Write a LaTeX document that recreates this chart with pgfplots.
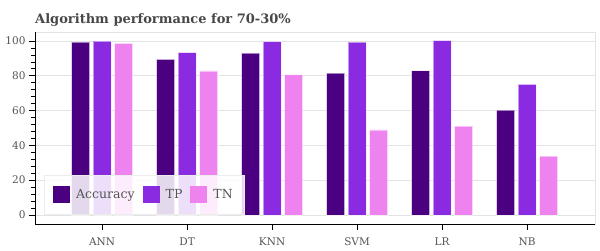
\documentclass[border=0pt]{standalone}
\usepackage{fontspec}
\setmainfont{DejaVu Serif}
\usepackage{pgfplots}
\pgfplotsset{compat=1.18}
\definecolor{cacc}{HTML}{4B0082}
\definecolor{ctp}{HTML}{8A2BE2}
\definecolor{ctn}{HTML}{EE82EE}
\definecolor{txt}{HTML}{555555}
\begin{document}
\begin{tikzpicture}[x=1pt,y=1pt]
\path[use as bounding box] (0,0) rectangle (600,250);
\node[anchor=west, font=\fontsize{13}{15}\selectfont\bfseries, text=black!72, inner sep=0pt] at (35,230) {Algorithm performance for 70-30\%};
\begin{axis}[
  at={(35pt,26pt)}, anchor=south west,
  scale only axis, width=560pt, height=192pt,
  ybar=0pt, bar width=0.212,
  xmin=-0.79, xmax=5.8, ymin=-5.2, ymax=105.2,
  xtick={0,...,5}, xticklabels={ANN,DT,KNN,SVM,LR,NB},
  ytick={0,20,...,100}, minor y tick num=4,
  ymajorgrids, major grid style={gray!22, line width=0.8pt},
  axis line style={gray!22, line width=0.8pt},
  xtick pos=bottom, ytick pos=left,
  tick align=outside, major tick length=6pt, minor tick length=4pt,
  tick style={black, line width=0.8pt},
  /pgf/number format/assume math mode=true,
  tick label style={font=\fontsize{10.5}{12}\selectfont, text=txt},
  xticklabel style={yshift=-4pt},
  legend columns=3,
  legend style={at={(rel axis cs:0.016,0.052)}, anchor=south west,
    fill=white, fill opacity=0.85, text opacity=1, draw=gray!15,
    inner xsep=9pt, inner ysep=11pt,
    font=\fontsize{12.5}{14}\selectfont, text=txt,
    /tikz/every odd column/.append style={column sep=4pt},
    /tikz/every even column/.append style={column sep=6pt}},
  legend image code/.code={\fill[#1, draw=none, fill opacity=1] (0pt,-8.5pt) rectangle (17pt,8.5pt);},
  every axis plot/.append style={draw=white, draw opacity=0.5, line width=0.8pt},
]
\addplot[fill=cacc, bar shift=-0.253] coordinates {(0,99.4) (1,89.5) (2,93.1) (3,81.6) (4,82.9) (5,60.3)};
\addplot[fill=ctp, bar shift=0] coordinates {(0,100.0) (1,93.3) (2,99.6) (3,99.4) (4,100.2) (5,75.1)};
\addplot[fill=ctn, bar shift=0.253] coordinates {(0,98.7) (1,82.8) (2,80.6) (3,48.9) (4,51.1) (5,33.9)};
\legend{Accuracy,TP,TN}
\draw[black, line width=0.8pt] (rel axis cs:0,0) -- (rel axis cs:1,0);
\draw[black, line width=0.8pt] (rel axis cs:0,0) -- (rel axis cs:0,1);
\end{axis}
\end{tikzpicture}
\end{document}
